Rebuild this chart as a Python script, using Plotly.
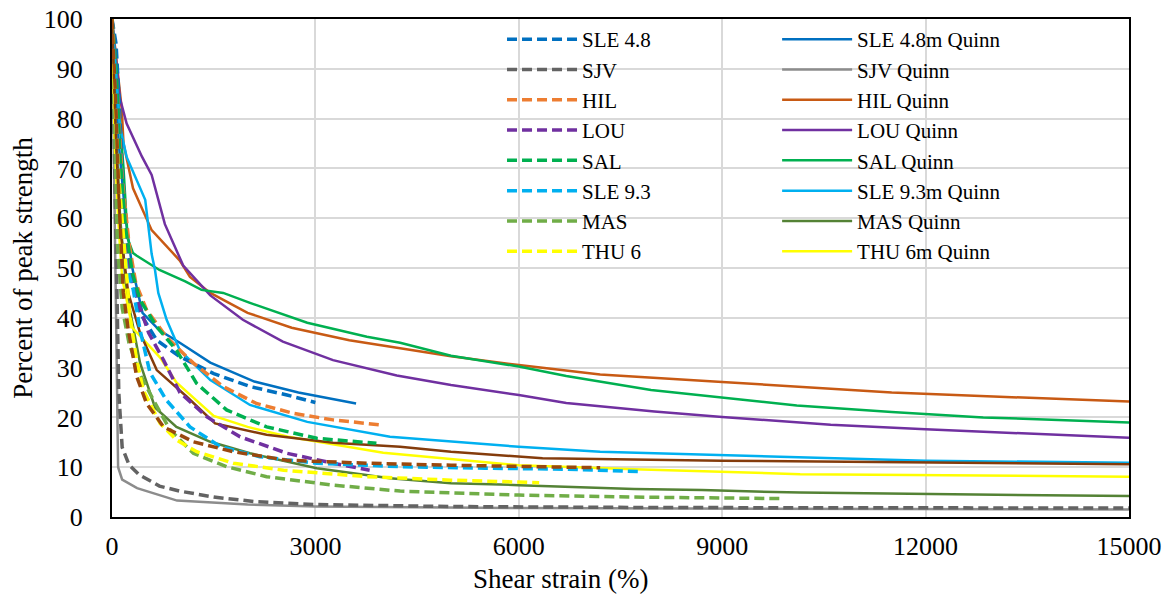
import plotly.graph_objects as go

# Shear strain (%) and percent of peak strength for each soil
sle48_x = [0, 60, 100, 150, 200, 280, 413, 660, 1000, 1500, 2035, 2580, 3000]
sle48_y = [100, 95, 85, 70, 60, 50, 41, 35.5, 32.2, 28.8, 26.2, 24.5, 23]
sle48q_x = [0, 100, 200, 300, 450, 700, 1000, 1450, 2100, 2750, 3600]
sle48q_y = [100, 75, 60, 50, 41, 37.5, 35, 31, 27.2, 25, 22.8]

sjv_x = [0, 50, 100, 150, 250, 400, 700, 1000, 1500, 2100, 3000, 5000, 8000, 15000]
sjv_y = [100, 60, 25, 14, 10.5, 8.5, 6.2, 5.2, 4.0, 3.1, 2.5, 2.1, 1.9, 1.8]
sjvq_x = [0, 90, 150, 370, 960, 2000, 3000, 6000, 15000]
sjvq_y = [100, 10, 7.5, 5.8, 3.3, 2.5, 2.1, 1.8, 1.5]

hil_x = [0, 80, 150, 250, 350, 510, 800, 1200, 1640, 2130, 2680, 3260, 3950]
hil_y = [100, 85, 68, 55, 47, 41.6, 36.2, 30.9, 26.2, 22.8, 20.8, 19.5, 18.5]
hilq_x = [0, 80, 143, 170, 310, 585, 830, 1000, 1150, 1450, 2000, 2650, 3500,
          4250, 5000, 6000, 7200, 9000, 10200, 11500, 13000, 15000]
hilq_y = [100, 90, 82, 75, 66, 57.6, 54, 51.5, 48.2, 45, 41, 38, 35.5,
          33.9, 32.3, 30.5, 28.6, 27.1, 26.1, 25, 24.2, 23.2]

lou_x = [0, 60, 120, 200, 300, 413, 540, 760, 1000, 1400, 1890, 2580, 3260, 3800]
lou_y = [100, 90, 70, 55, 47, 42, 37, 31.5, 25, 20.1, 16.1, 12.8, 10.8, 9.4]
louq_x = [0, 60, 118, 216, 440, 585, 780, 1050, 1450, 1930, 2520, 3260, 4200,
          5000, 6000, 6700, 8000, 9000, 10600, 12000, 15000]
louq_y = [100, 92, 84, 79, 72.4, 68.7, 58.8, 50.5, 44.5, 39.6, 35.2, 31.5, 28.4,
          26.5, 24.5, 22.9, 21.2, 20.1, 18.5, 17.6, 15.9]

sal_x = [0, 60, 120, 200, 300, 413, 660, 950, 1250, 1690, 2280, 3020, 3900]
sal_y = [100, 90, 72, 58, 49, 43.6, 38.2, 33.5, 26.8, 21.5, 18.1, 15.8, 14.8]
salq_x = [0, 80, 170, 230, 310, 360, 700, 1080, 1320, 1640, 2035, 2880, 3760,
          4250, 5000, 6000, 6700, 7950, 9000, 10100, 11500, 12850, 15000]
salq_y = [100, 85, 70, 56, 53, 52.5, 49.6, 47.3, 45.6, 45, 43, 39, 36.2,
          35, 32.4, 30.2, 28.3, 25.5, 24, 22.4, 21.1, 20, 19]

sle93_x = [0, 40, 90, 150, 220, 314, 413, 560, 800, 1150, 1600, 2180, 3020,
           4250, 5500, 6700, 7800]
sle93_y = [100, 90, 70, 57, 50, 45.6, 37.6, 29, 23.5, 18.1, 14.1, 12.1, 10.8,
           10.1, 9.8, 9.6, 9.1]
sle93q_x = [0, 60, 118, 216, 364, 490, 585, 634, 683, 806, 1000, 1450, 2035,
            2880, 4100, 5000, 6000, 7200, 9000, 10150, 12000, 15000]
sle93q_y = [100, 88, 78.4, 72.3, 67.7, 63.7, 52.8, 49.6, 45, 39.6, 33.5, 27.5, 22.5,
            19.1, 16.1, 15.1, 14.1, 13.1, 12.4, 12, 11.3, 10.9]

mas_x = [0, 30, 80, 150, 250, 400, 610, 855, 1200, 1690, 2280, 3260, 4250,
         6000, 7700, 9900]
mas_y = [100, 80, 55, 42, 35, 29, 23.5, 17.5, 12.8, 10.1, 8.1, 6.4, 5.2,
         4.4, 4, 3.7]
masq_x = [0, 50, 120, 216, 413, 634, 950, 1450, 2035, 3020, 4100, 5000, 6000,
          7700, 8700, 10150, 15000]
masq_y = [100, 80, 60, 45, 31, 22, 18.1, 15.1, 12.8, 9.8, 7.8, 6.8, 6.4,
          5.6, 5.4, 4.9, 4.2]

thu_x = [0, 40, 100, 190, 265, 364, 460, 710, 950, 1250, 1790, 2530, 3760, 5000, 6300]
thu_y = [100, 85, 68, 53.6, 40.2, 31.5, 25.5, 18.8, 15.5, 13.1, 10.8, 9.4, 8.1, 7.4, 6.9]
thuq_x = [0, 40, 90, 150, 300, 560, 710, 950, 1500, 2000, 2600, 4000, 5000,
          6000, 7700, 10150, 15000]
thuq_y = [100, 75, 60, 48, 38, 34.2, 32, 27, 20.3, 18.1, 16.1, 12.9, 11.6,
          10.4, 9.6, 8.6, 8.1]

brn_x = [0, 50, 100, 143, 167, 240, 364, 510, 760, 1200, 1790, 2580, 3760, 5000, 7200]
brn_y = [100, 85, 65, 54, 45, 37.6, 28.2, 22.8, 18.1, 15.1, 13.1, 11.4, 10.8, 10.4, 9.9]
brnq_x = [0, 60, 120, 240, 413, 660, 1100, 1520, 2280, 3260, 4250, 5000, 6350, 9000, 15000]
brnq_y = [100, 75, 58, 45, 37, 29.5, 24.2, 18.8, 16.5, 14.9, 14.1, 13.1, 11.8, 11.3, 10.6]

x_ticks = [0, 3000, 6000, 9000, 12000, 15000]
y_ticks = [0, 10, 20, 30, 40, 50, 60, 70, 80, 90, 100]

# (name, x, y, colour, dashed, legend id or None)
series = [
    ("SLE 4.8", sle48_x, sle48_y, "#0070C0", True, "legend"),
    ("SLE 4.8m Quinn", sle48q_x, sle48q_y, "#0070C0", False, "legend2"),
    ("SJV", sjv_x, sjv_y, "#636363", True, "legend"),
    ("SJV Quinn", sjvq_x, sjvq_y, "#8C8C8C", False, "legend2"),
    ("HIL", hil_x, hil_y, "#ED7D31", True, "legend"),
    ("HIL Quinn", hilq_x, hilq_y, "#C85A14", False, "legend2"),
    ("LOU", lou_x, lou_y, "#7030A0", True, "legend"),
    ("LOU Quinn", louq_x, louq_y, "#7030A0", False, "legend2"),
    ("SAL", sal_x, sal_y, "#00B050", True, "legend"),
    ("SAL Quinn", salq_x, salq_y, "#00B050", False, "legend2"),
    ("SLE 9.3", sle93_x, sle93_y, "#00B0F0", True, "legend"),
    ("SLE 9.3m Quinn", sle93q_x, sle93q_y, "#00B0F0", False, "legend2"),
    ("MAS", mas_x, mas_y, "#70AD47", True, "legend"),
    ("MAS Quinn", masq_x, masq_y, "#548235", False, "legend2"),
    ("THU 6", thu_x, thu_y, "#FFFF00", True, "legend"),
    ("THU 6m Quinn", thuq_x, thuq_y, "#FFFF00", False, "legend2"),
    ("BRN", brn_x, brn_y, "#9A480E", True, None),
    ("BRN Quinn", brnq_x, brnq_y, "#843C0C", False, None),
]

FONT = "Liberation Serif, Times New Roman, Times, serif"

fig = go.Figure()
# solid curves first, dashed curves on top
draw_order = [s for s in series if not s[4]] + [s for s in series if s[4]]
rank = {s[0]: i for i, s in enumerate(series)}
for name, xs, ys, col, dashed, leg in draw_order:
    fig.add_trace(go.Scatter(
        x=xs, y=ys, mode="lines", name=name,
        showlegend=leg is not None, legend=leg or "legend",
        legendrank=rank[name] + 1,
        line=dict(color=col, width=3.5 if dashed else 2.5,
                  dash="10px,5px" if dashed else "solid"),
    ))

# white backing box for the two legend columns (above gridlines, below curves)
fig.add_shape(type="rect", xref="paper", yref="paper", layer="between",
              x0=0.382, x1=0.915, y0=0.49, y1=0.994,
              fillcolor="white", line_width=0)

legend_common = dict(
    orientation="v", yanchor="top", xanchor="left", y=1.0,
    itemwidth=70, bgcolor="rgba(0,0,0,0)",
    font=dict(family=FONT, size=21, color="black"),
    traceorder="normal", tracegroupgap=0,
)

# x-axis title sits left of the plot centre
fig.add_annotation(text="Shear strain (%)", xref="paper", yref="paper",
                   x=0.441, y=-0.1245, xanchor="center", yanchor="middle",
                   showarrow=False, font=dict(family=FONT, size=27, color="black"))

fig.update_layout(
    width=1173, height=596,
    margin=dict(l=112, r=44, t=19, b=79),
    paper_bgcolor="white", plot_bgcolor="white",
    font=dict(family=FONT, color="black", size=26),
    legend=dict(x=0.3835, **legend_common),
    legend2=dict(x=0.654, **legend_common),
    xaxis=dict(
        range=[0, 15000], tickvals=x_ticks, ticktext=[str(v) for v in x_ticks],
        showgrid=True, gridcolor="#D9D9D9", gridwidth=2,
        showline=True, linecolor="black", linewidth=2, mirror=True,
        zeroline=False, ticks="", ticklabelstandoff=5, automargin=False,
    ),
    yaxis=dict(
        range=[0, 100], tickvals=y_ticks, ticktext=[str(v) for v in y_ticks],
        showgrid=True, gridcolor="#D9D9D9", gridwidth=2,
        showline=True, linecolor="black", linewidth=2, mirror=True,
        zeroline=False, ticks="", ticklabelstandoff=22, automargin=False,
        title=dict(text="Percent of peak strength", font=dict(size=27), standoff=3),
    ),
)

fig.write_html("out.html")
